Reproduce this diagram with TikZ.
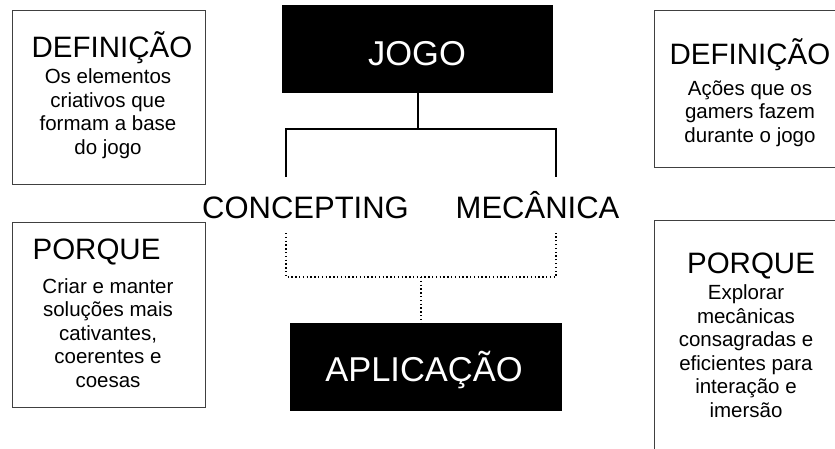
\documentclass[tikz,border=0pt]{standalone}
\usepackage{fontspec}
\setmainfont{Liberation Sans}
\usetikzlibrary{positioning}

\tikzset{
  panel/.style={draw=black!75, line width=1.3pt, anchor=north west, inner sep=0pt},
  blackbox/.style={fill=black, anchor=north west, inner sep=0pt},
  headtext/.style={anchor=base, inner sep=0pt, font=\fontsize{34.5}{40}\selectfont},
  midtext/.style={anchor=base, inner sep=0pt, font=\fontsize{31}{36}\selectfont},
  titletext/.style={anchor=base, inner sep=0pt, font=\fontsize{29.5}{34}\selectfont},
  % base of a multi-line node sits on its last line
  bodytext/.style={anchor=base, inner sep=0pt, align=center, font=\fontsize{20.5}{23.5}\selectfont},
  link/.style={line width=1.5pt},
  dotlink/.style={line width=1.3pt, dash pattern=on 1.3pt off 2.5pt}
}

\begin{document}
\begin{tikzpicture}[x=1pt,y=-1pt]
\useasboundingbox (0,0) rectangle (835,448);
\clip (0,0) rectangle (835,448);

% central column
\node[blackbox, minimum width=271pt, minimum height=88pt] (jogo) at (282,5) {};
\node[headtext, text=white] (jogo-txt) at (417,65) {JOGO};
\node[midtext] (concepting) at (305.5,218) {CONCEPTING};
\node[midtext] (mecanica) at (537.5,218) {MECÂNICA};
\node[blackbox, minimum width=272pt, minimum height=88pt] (aplic) at (290,323) {};
\node[headtext, text=white] (aplic-txt) at (424,381) {APLICAÇÃO};

% ends of the connectors
\coordinate (fork) at (418,129);
\coordinate (conc-up) at (286,177);
\coordinate (mec-up) at (556,177);
\coordinate (conc-down) at (286,233);
\coordinate (mec-down) at (556,233);
\coordinate (join) at (421,277);

\draw[link] (jogo.south -| fork) -- (fork);
\draw[link] (conc-up) -- (conc-up |- fork) -- (mec-up |- fork) -- (mec-up);
\draw[dotlink] (conc-down) -- (conc-down |- join) -- (mec-down |- join) -- (mec-down);
\draw[dotlink] (join) -- (aplic.north -| join);

% left side
\node[panel, minimum width=193pt, minimum height=174pt] (def-l) at (12,10) {};
\node[titletext] (def-l-title) at (112,57) {DEFINIÇÃO};
\node[bodytext] (def-l-body) at (108,154) {Os elementos\\criativos que\\formam a base\\do jogo};

\node[panel, minimum width=193pt, minimum height=185pt] (why-l) at (12,222) {};
\node[titletext] (why-l-title) at (96.5,259) {PORQUE};
\node[bodytext] (why-l-body) at (108,387) {Criar e manter\\soluções mais\\cativantes,\\coerentes e\\coesas};

% right side
\node[panel, minimum width=192pt, minimum height=157pt] (def-r) at (654,10) {};
\node[titletext] (def-r-title) at (750,64) {DEFINIÇÃO};
\node[bodytext] (def-r-body) at (750,142) {Ações que os\\gamers fazem\\durante o jogo};

\node[panel, minimum width=192pt, minimum height=260pt] (why-r) at (654,220) {};
\node[titletext] (why-r-title) at (751,273) {PORQUE};
\node[bodytext] (why-r-body) at (746,417) {Explorar\\mecânicas\\consagradas e\\eficientes para\\interação e\\imersão};
\end{tikzpicture}
\end{document}
